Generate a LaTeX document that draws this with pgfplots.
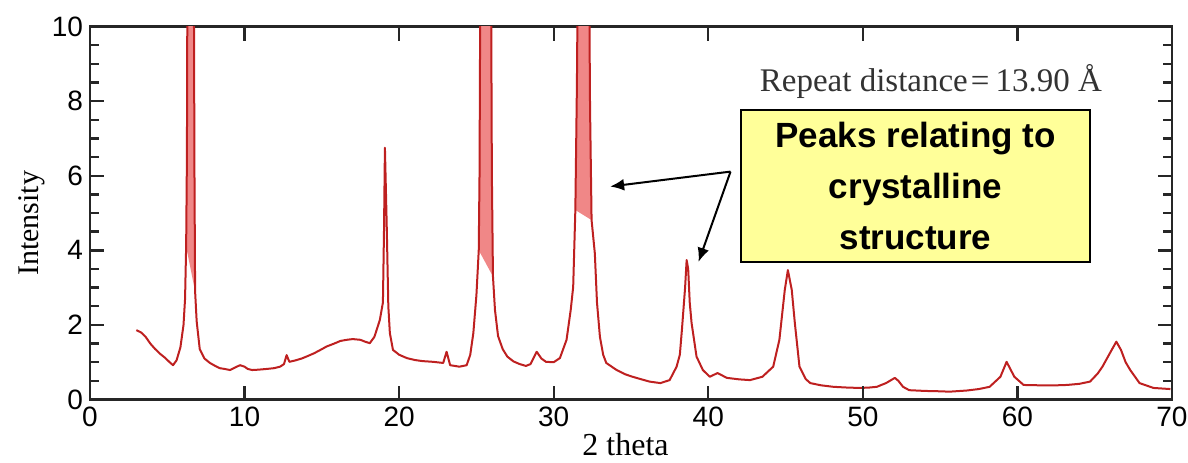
\documentclass[border=0pt]{standalone}
\usepackage{fontspec}
\usepackage{pgfplots}
\pgfplotsset{compat=1.18}
\usetikzlibrary{arrows.meta}
\setmainfont{Liberation Serif}
\newfontfamily\arialf{Liberation Sans}

\definecolor{xrdred}{RGB}{190,32,32}
\definecolor{xrdpink}{RGB}{240,135,135}
\definecolor{boxyellow}{RGB}{255,255,153}

\begin{document}
\begin{tikzpicture}
\useasboundingbox (-45pt,-31.25pt) rectangle (549pt,199.75pt);
\begin{axis}[
  width=541pt, height=186.5pt, scale only axis,
  xmin=0, xmax=70, ymin=0, ymax=10,
  xtick={0,10,...,70}, ytick={0,2,...,10},
  minor ytick={0.5,1,...,9.5},
  tick align=inside,
  major tick length=7pt, minor tick length=4.5pt,
  tick style={draw=black!85, line width=1.2pt},
  axis line style={line width=1.2pt, black!85},
  xticklabel={\pgfmathprintnumber[assume math mode=true]{\tick}},
  yticklabel={\pgfmathprintnumber[assume math mode=true]{\tick}},
  ticklabel style={font=\arialf\fontsize{14}{14}\selectfont},
  xlabel={2 theta},
  xlabel style={font=\fontsize{16}{16}\selectfont, at={(axis description cs:0.495,-0.150)}, anchor=base},
  ylabel={Intensity},
  ylabel style={font=\fontsize{15}{15}\selectfont, at={(axis description cs:-0.048,0.472)}, anchor=base},
]
% pink interior of the clipped peaks
\addplot[draw=none, fill=xrdpink] coordinates {(6.22,4.1)(6.27,6.5)(6.3,11)(6.72,11)(6.76,6.0)(6.8,2.9)};
\addplot[draw=none, fill=xrdpink] coordinates {(25.15,4.0)(25.2,6)(25.25,11)(25.95,11)(26.0,6)(26.07,3.3)};
\addplot[draw=none, fill=xrdpink] coordinates {(31.4,5.08)(31.5,8.4)(31.55,11)(32.3,11)(32.35,7.85)(32.45,4.81)};

\addplot[xrdred, line width=1pt, line join=round] coordinates {
(3.0,1.86)(3.3,1.80)(3.6,1.68)(3.9,1.50)(4.2,1.36)(4.55,1.22)(4.85,1.12)(5.1,1.02)(5.37,0.92)(5.6,1.05)
(5.85,1.40)(6.05,2.0)(6.15,2.7)(6.22,4.1)(6.27,6.5)(6.3,11)(6.72,11)(6.76,6.0)(6.8,2.9)(6.9,2.1)
(7.1,1.35)(7.4,1.1)(7.76,0.98)(8.1,0.9)(8.4,0.84)(8.7,0.82)(9.06,0.79)(9.4,0.86)(9.7,0.92)(10.0,0.88)
(10.2,0.82)(10.5,0.79)(10.9,0.80)(11.45,0.82)(11.9,0.84)(12.3,0.88)(12.55,0.95)(12.72,1.19)(12.9,1.01)(13.3,1.05)
(13.7,1.10)(14.0,1.15)(14.5,1.24)(15.0,1.35)(15.3,1.42)(15.8,1.5)(16.2,1.57)(16.6,1.60)(17.0,1.62)(17.5,1.60)
(17.8,1.55)(18.1,1.51)(18.4,1.68)(18.75,2.13)(18.95,2.6)(19.02,4.5)(19.08,6.75)(19.15,5.5)(19.2,4.6)(19.3,2.5)
(19.4,1.78)(19.6,1.33)(20.0,1.20)(20.5,1.11)(21.0,1.06)(21.5,1.03)(22.2,1.01)(22.85,0.98)(23.07,1.28)(23.3,0.92)
(23.9,0.88)(24.37,0.92)(24.6,1.2)(24.8,1.78)(25.0,2.8)(25.15,4.0)(25.2,6)(25.25,11)(25.95,11)(26.0,6)
(26.07,3.3)(26.2,2.4)(26.4,1.7)(26.7,1.35)(27.0,1.15)(27.4,1.02)(27.8,0.95)(28.2,0.9)(28.5,0.95)(28.9,1.28)
(29.2,1.1)(29.5,1.01)(30.0,1.0)(30.4,1.11)(30.83,1.6)(31.1,2.4)(31.26,3.02)(31.4,5.08)(31.5,8.4)(31.55,11)
(32.3,11)(32.35,7.85)(32.45,4.81)(32.66,3.92)(32.8,2.6)(32.99,1.68)(33.2,1.2)(33.4,0.98)(34.07,0.79)(34.6,0.68)
(35.1,0.61)(35.6,0.55)(36.2,0.48)(36.9,0.44)(37.5,0.52)(37.95,0.88)(38.16,1.2)(38.3,1.9)(38.5,3.0)(38.6,3.74)
(38.7,3.5)(38.8,2.6)(38.92,2.05)(39.24,1.15)(39.65,0.79)(40.1,0.61)(40.6,0.71)(41.2,0.58)(42.0,0.54)(42.7,0.52)
(43.5,0.61)(44.2,0.88)(44.6,1.6)(44.95,2.94)(45.15,3.47)(45.4,2.94)(45.6,2.05)(45.9,0.88)(46.3,0.55)(46.6,0.44)
(47.3,0.38)(48.1,0.34)(49.0,0.32)(49.8,0.31)(50.4,0.32)(50.9,0.34)(51.5,0.44)(52.07,0.58)(52.3,0.5)(52.6,0.34)
(53.0,0.25)(54.0,0.23)(55.0,0.22)(55.6,0.21)(56.7,0.24)(57.5,0.28)(58.2,0.34)(58.9,0.61)(59.3,1.01)(59.5,0.85)
(59.8,0.61)(60.4,0.39)(61.5,0.38)(62.5,0.38)(63.2,0.39)(64.0,0.42)(64.7,0.48)(65.2,0.7)(65.5,0.88)(66.1,1.33)
(66.4,1.55)(66.7,1.33)(67.0,1.0)(67.3,0.79)(67.9,0.44)(68.8,0.31)(69.9,0.28)
};

% annotations
\node[font=\fontsize{16.5}{16.5}\selectfont, text=black!80] at (axis cs:54.4,8.52) {Repeat distance\hspace{1.5pt}=\hspace{3pt}13.90 Å};
\node[draw=black, line width=1pt, fill=boxyellow, minimum width=174.75pt, minimum height=76.2pt,
      align=center, inner sep=0pt, font=\arialf\bfseries\fontsize{17.5}{25.5}\selectfont]
  at (axis cs:53.41,5.72) {Peaks relating to\\crystalline\\structure};
\draw[-{Latex[length=7pt,width=6pt]}, line width=1pt] (axis cs:41.44,6.11) -- (axis cs:33.65,5.71);
\draw[-{Latex[length=7pt,width=6pt]}, line width=1pt] (axis cs:41.44,6.11) -- (axis cs:39.37,3.69);
\end{axis}
% same frame once more, carrying only the tick marks
\begin{axis}[
  width=541pt, height=186.5pt, scale only axis,
  xmin=0, xmax=70, ymin=0, ymax=10,
  xtick={0,10,...,70}, ytick={0,2,...,10},
  minor ytick={0.5,1,...,9.5},
  tick align=inside,
  major tick length=7pt, minor tick length=4.5pt,
  tick style={draw=black!85, line width=1.2pt},
  axis line style={draw=none},
  xticklabels={}, yticklabels={},
]
\end{axis}
\end{tikzpicture}
\end{document}
